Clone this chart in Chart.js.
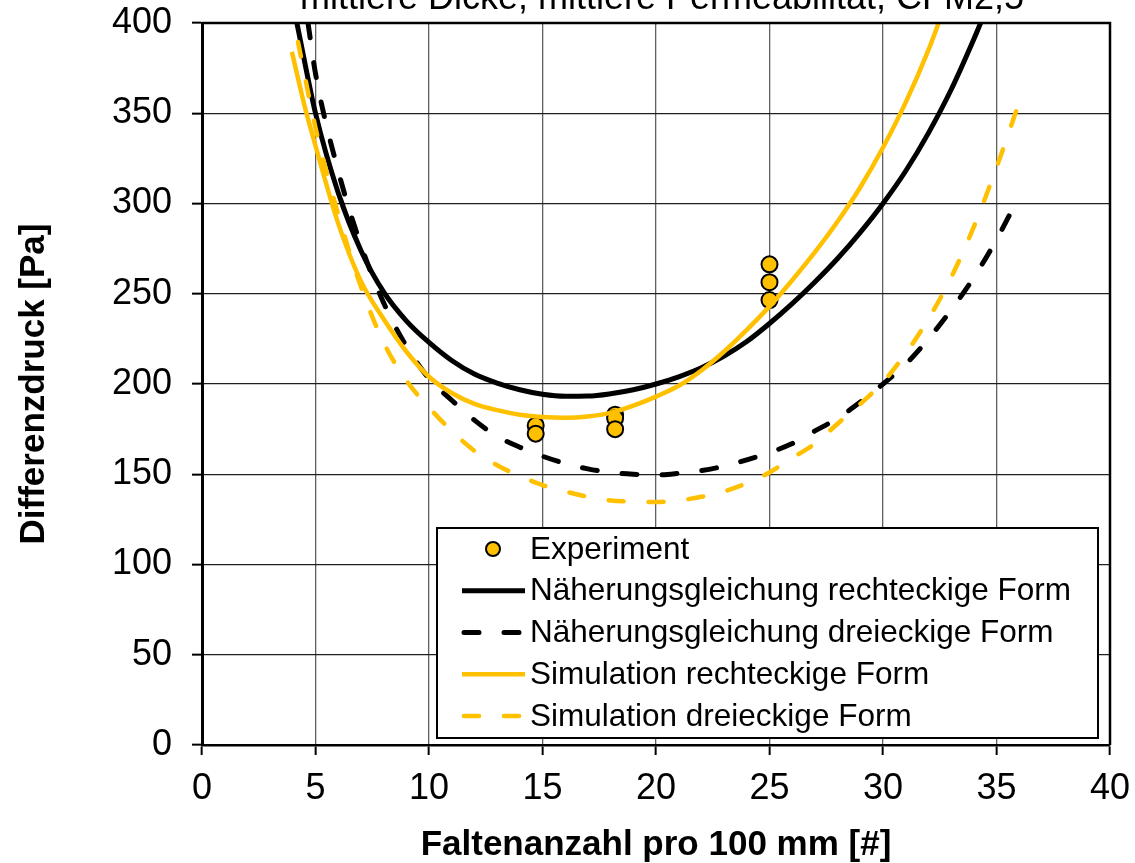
<!DOCTYPE html>
<html>
<head>
<meta charset="utf-8">
<script src="https://cdn.jsdelivr.net/npm/chart.js@4.4.0/dist/chart.umd.min.js"></script>
<style>
html,body{margin:0;padding:0;background:#fff;overflow:hidden}
#wrap{width:1135px;height:863px;position:relative}
</style>
</head>
<body>
<div id="wrap"><canvas id="c" width="1135" height="863"></canvas></div>
<script>
const chartTitle = 'mittlere Dicke, mittlere Permeabilität, CFM2,5';
const xAxisTitle = 'Faltenanzahl pro 100 mm [#]';
const yAxisTitle = 'Differenzdruck [Pa]';
const xTickValues = [0, 5, 10, 15, 20, 25, 30, 35, 40];
const yTickValues = [0, 50, 100, 150, 200, 250, 300, 350, 400];
const seriesNames = [
  'Experiment',
  'Näherungsgleichung rechteckige Form',
  'Näherungsgleichung dreieckige Form',
  'Simulation rechteckige Form',
  'Simulation dreieckige Form'
];

// Experiment
const expX = [14.7, 14.7, 18.2, 18.2, 18.2, 25, 25, 25];
const expY = [177, 172.5, 183, 181, 175, 266.3, 256.4, 246.5];

// Näherungsgleichung rechteckige Form
const rectApproxX = [4.18, 5, 6, 7, 8, 9, 10, 11, 12, 13, 14, 15, 16, 17, 18, 19, 20, 21, 22, 23, 24, 25, 26, 27, 28, 29, 30, 31, 32, 33, 34, 34.3];
const rectApproxY = [400, 350, 306, 274, 251, 235, 223, 213, 205.5, 200.5, 196.8, 194.3, 193.2, 193.3, 194.6, 196.8, 200, 204, 209, 215.5, 223.5, 233.5, 244.5, 256.5, 269.5, 284, 300, 318, 339, 363, 391, 400];

// Näherungsgleichung dreieckige Form
const triApproxX = [4.67, 5, 6, 7, 8, 9, 10, 11, 12, 13, 14, 15, 16, 17, 18, 19, 20, 21, 22, 23, 24, 25, 26, 27, 28, 29, 30, 31, 32, 33, 34, 35, 36];
const triApproxY = [400, 372, 318, 277, 245, 221, 203, 191, 180, 171, 165, 160, 156, 153, 151, 150, 149.6, 150.5, 152, 154.5, 158, 162, 167, 174, 181, 190, 200, 211, 225, 241, 259, 280, 304];

// Simulation rechteckige Form
const rectSimX = [3.96, 4.5, 5, 6, 7, 8, 9, 10, 11, 12, 13, 14, 15, 16, 17, 18, 19, 20, 21, 22, 23, 24, 25, 26, 27, 28, 29, 30, 31, 32, 32.45];
const rectSimY = [384, 355, 332, 289, 257, 236, 218, 204, 195, 189, 185.5, 183, 181.7, 181.3, 182, 184, 188, 193, 199, 207.5, 218, 230, 243, 257.5, 273, 290, 309, 331, 356, 385, 400];

// Simulation dreieckige Form
const triSimX = [4.23, 5, 6, 7, 8, 9, 10, 11, 12, 13, 14, 15, 16, 17, 18, 19, 20, 21, 22, 23, 24, 25, 26, 27, 28, 29, 30, 31, 32, 33, 34, 35, 36];
const triSimY = [389.5, 342, 294, 254, 223, 202, 187, 174, 163, 155, 149, 144, 140.5, 137.5, 135.5, 134.8, 134.6, 135.5, 137.5, 140.5, 145, 151, 159, 167, 178, 189, 201, 217, 236, 259, 287, 320, 356];

const GOLD = '#FFC000';
const FONT = '"Liberation Sans", Arial, sans-serif';
const DASH = [15, 25];

function pts(xs, ys) { return xs.map((x, i) => ({ x: x, y: ys[i] })); }

const datasets = [
  { label: seriesNames[0], data: pts(expX, expY), showLine: false,
    pointRadius: 8, pointHoverRadius: 8, pointBackgroundColor: GOLD, pointBorderColor: '#000', pointBorderWidth: 2, order: 5 },
  { label: seriesNames[1], data: pts(rectApproxX, rectApproxY), showLine: true, borderColor: '#000', borderWidth: 5,
    pointRadius: 0, cubicInterpolationMode: 'monotone', order: 4 },
  { label: seriesNames[2], data: pts(triApproxX, triApproxY), showLine: true, borderColor: '#000', borderWidth: 5,
    borderDash: DASH, borderCapStyle: 'round', pointRadius: 0, cubicInterpolationMode: 'monotone', order: 3 },
  { label: seriesNames[3], data: pts(rectSimX, rectSimY), showLine: true, borderColor: GOLD, borderWidth: 4.5,
    pointRadius: 0, cubicInterpolationMode: 'monotone', order: 2 },
  { label: seriesNames[4], data: pts(triSimX, triSimY), showLine: true, borderColor: GOLD, borderWidth: 4.5,
    borderDash: DASH, borderCapStyle: 'round', pointRadius: 0, cubicInterpolationMode: 'monotone', order: 1 }
];

const decor = {
  id: 'decor',
  afterDraw(chart) {
    const ctx = chart.ctx, a = chart.chartArea;
    ctx.save();
    // top and right frame
    ctx.strokeStyle = '#000';
    ctx.lineWidth = 2.5;
    ctx.beginPath();
    ctx.moveTo(a.left, a.top);
    ctx.lineTo(a.right, a.top);
    ctx.lineTo(a.right, a.bottom);
    ctx.stroke();
    // title (cut off at top like the reference)
    ctx.fillStyle = '#000';
    ctx.font = '36px ' + FONT;
    ctx.textAlign = 'center';
    ctx.textBaseline = 'alphabetic';
    ctx.fillText(chartTitle, (a.left + a.right) / 2 + 6, 9);
    // legend box
    const bx = 437, by = 528, bw = 661, bh = 210;
    ctx.fillStyle = '#fff';
    ctx.fillRect(bx, by, bw, bh);
    ctx.strokeStyle = '#000';
    ctx.lineWidth = 2;
    ctx.strokeRect(bx, by, bw, bh);
    const rowY0 = 549, rowStep = 41.75;
    ctx.font = '31.5px ' + FONT;
    ctx.textAlign = 'left';
    ctx.textBaseline = 'middle';
    chart.data.datasets.forEach((ds, i) => {
      const y = rowY0 + i * rowStep;
      if (!ds.showLine) {
        ctx.beginPath();
        ctx.arc(493, y, 7, 0, Math.PI * 2);
        ctx.fillStyle = ds.pointBackgroundColor;
        ctx.fill();
        ctx.lineWidth = 2;
        ctx.strokeStyle = ds.pointBorderColor;
        ctx.setLineDash([]);
        ctx.stroke();
      } else {
        ctx.beginPath();
        ctx.strokeStyle = ds.borderColor;
        ctx.lineWidth = ds.borderWidth;
        if (ds.borderDash) {
          ctx.setLineDash(ds.borderDash);
          ctx.lineCap = 'round';
          ctx.moveTo(464, y); ctx.lineTo(523, y);
        } else {
          ctx.setLineDash([]);
          ctx.lineCap = 'butt';
          ctx.moveTo(462, y); ctx.lineTo(525, y);
        }
        ctx.stroke();
        ctx.setLineDash([]);
      }
      ctx.fillStyle = '#000';
      ctx.fillText(ds.label, 530, y + 1);
    });
    ctx.restore();
  }
};

new Chart(document.getElementById('c'), {
  type: 'scatter',
  data: { datasets: datasets },
  options: {
    responsive: false,
    animation: false,
    devicePixelRatio: 1,
    layout: { padding: { left: 0, top: 23, right: 25, bottom: 0 } },
    plugins: { legend: { display: false }, tooltip: { enabled: false }, title: { display: false } },
    scales: {
      x: {
        type: 'linear', min: 0, max: 40,
        afterBuildTicks: s => { s.ticks = xTickValues.map(v => ({ value: v })); },
        afterFit: s => { s.height = 118; s.paddingLeft = 0; s.paddingRight = 0; },
        ticks: { font: { family: FONT, size: 36 }, color: '#000', padding: 12, maxRotation: 0 },
        grid: { color: '#606060', lineWidth: 1.3, tickLength: 10, tickColor: '#000', tickWidth: 2 },
        border: { display: true, color: '#000', width: 2.5 },
        title: { display: true, text: xAxisTitle, color: '#000', font: { family: FONT, size: 35, weight: 'bold', lineHeight: 1.0 }, padding: { top: 0, bottom: 0 } }
      },
      y: {
        type: 'linear', min: 0, max: 400,
        afterBuildTicks: s => { s.ticks = yTickValues.map(v => ({ value: v })); },
        afterFit: s => { s.width = 202; s.paddingTop = 0; s.paddingBottom = 0; },
        ticks: { font: { family: FONT, size: 36 }, color: '#000', padding: 20 },
        grid: { color: '#202020', lineWidth: 1.3, tickLength: 10, tickColor: '#000', tickWidth: 2 },
        border: { display: true, color: '#000', width: 3 },
        title: { display: true, text: yAxisTitle, color: '#000', font: { family: FONT, size: 35, weight: 'bold' }, padding: { top: 13, bottom: 0 } }
      }
    }
  },
  plugins: [decor]
});
</script>
</body>
</html>
